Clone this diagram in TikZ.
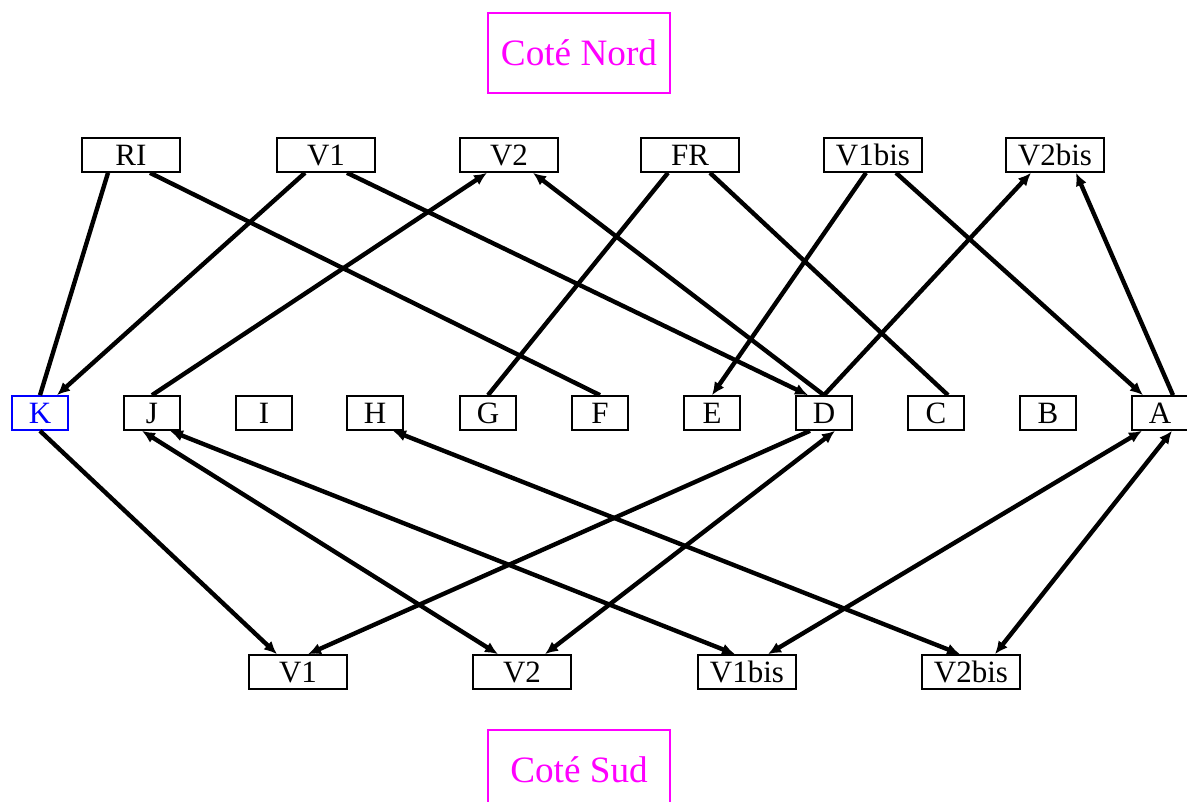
\documentclass[tikz,border=0pt]{standalone}
\usepackage{fontspec}
\setmainfont{Liberation Serif}
\usetikzlibrary{arrows.meta,calc}
\definecolor{vraimagenta}{RGB}{255,0,255}
\tikzset{
  boite/.style={draw, line width=0.6pt, minimum width=37.9pt, minimum height=13.2pt, inner sep=0pt, font=\fontsize{12}{14}\selectfont},
  lettre/.style={boite, minimum width=21.7pt},
  cote/.style={draw=vraimagenta, text=vraimagenta, line width=0.6pt, minimum width=70.4pt, minimum height=31pt, inner sep=0pt, font=\fontsize{14.4}{17}\selectfont},
  lien/.style={line width=1.7pt},
  fl/.style={lien, -{Latex[length=5pt,width=4.5pt]}},
  dfl/.style={lien, {Latex[length=5pt,width=4.5pt]}-{Latex[length=5pt,width=4.5pt]}}
}
\begin{document}
\begin{tikzpicture}[x=0.387pt,y=-0.387pt]
\useasboundingbox (0,0) rectangle (1187,802);
% les deux cotes
\node[cote] (nord) at (579,53) {Coté Nord};
\node[cote] (sud) at (579,770) {Coté Sud};
% rangee du haut
\node[boite] (RI) at (131,155) {RI};
\node[boite] (V1h) at (326,155) {V1};
\node[boite] (V2h) at (509,155) {V2};
\node[boite] (FR) at (690,155) {FR};
\node[boite] (V1bish) at (873,155) {V1bis};
\node[boite] (V2bish) at (1055,155) {V2bis};
% rangee du milieu
\node[lettre, draw=blue, text=blue] (K) at (40,413) {K};
\node[lettre] (J) at (152,413) {J};
\node[lettre] (I) at (264,413) {I};
\node[lettre] (H) at (375,413) {H};
\node[lettre] (G) at (488,413) {G};
\node[lettre] (F) at (600,413) {F};
\node[lettre] (E) at (712,413) {E};
\node[lettre] (D) at (824,413) {D};
\node[lettre] (C) at (936,413) {C};
\node[lettre] (B) at (1048,413) {B};
\node[lettre] (A) at (1160,413) {A};
% rangee du bas
\node[boite] (V1b) at (298,672) {V1};
\node[boite] (V2b) at (522,672) {V2};
\node[boite] (V1bisb) at (747,672) {V1bis};
\node[boite] (V2bisb) at (971,672) {V2bis};
% liens du haut
\draw[lien] ($(RI.south)+(-23,0)$) -- (K.north);
\draw[lien] ($(RI.south)+(19,0)$) -- (F.north);
\draw[fl] ($(V1h.south)+(-21,0)$) -- ($(K.north)+(17,0)$);
\draw[fl] ($(V1h.south)+(21,0)$) -- ($(D.north)+(-16,0)$);
\draw[fl] (J.north) -- ($(V2h.south)+(-22,0)$);
\draw[fl] (D.north) -- ($(V2h.south)+(24,0)$);
\draw[lien] ($(FR.south)+(-22,0)$) -- (G.north);
\draw[lien] ($(FR.south)+(20,0)$) -- ($(C.north)+(12,0)$);
\draw[fl] ($(V1bish.south)+(-7,0)$) -- (E.north);
\draw[fl] ($(V1bish.south)+(23,0)$) -- ($(A.north)+(-17,0)$);
\draw[fl] (D.north) -- ($(V2bish.south)+(-24,0)$);
\draw[fl] ($(A.north)+(13,0)$) -- ($(V2bish.south)+(21,0)$);
% liens du bas
\draw[fl] (K.south) -- ($(V1b.north)+(-21,0)$);
\draw[fl] ($(D.south)+(-14,0)$) -- ($(V1b.north)+(10,0)$);
\draw[dfl] ($(J.south)+(-10,0)$) -- ($(V2b.north)+(-24,0)$);
\draw[dfl] ($(D.south)+(11,0)$) -- ($(V2b.north)+(23,0)$);
\draw[dfl] ($(J.south)+(18,0)$) -- ($(V1bisb.north)+(-12,0)$);
\draw[dfl] ($(H.south)+(18,0)$) -- ($(V2bisb.north)+(-11,0)$);
\draw[dfl] ($(A.south)+(-18,0)$) -- ($(V1bisb.north)+(21,0)$);
\draw[dfl] ($(A.south)+(12,0)$) -- ($(V2bisb.north)+(24,0)$);
\end{tikzpicture}
\end{document}
